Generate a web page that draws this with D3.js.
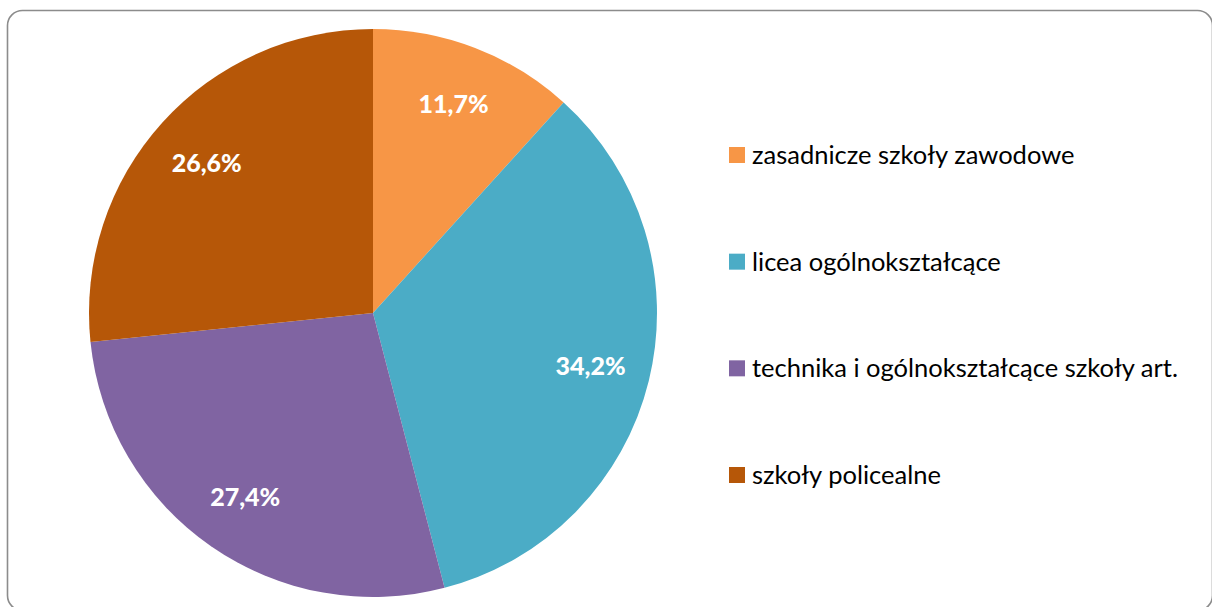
<!DOCTYPE html>
<html>
<head>
<meta charset="utf-8">
<script src="https://cdn.jsdelivr.net/npm/d3@7"></script>
<style>
  html, body { margin: 0; padding: 0; background: #fff; overflow: hidden; }
  svg { display: block; }
</style>
</head>
<body>
<script>
// chart data
const categories = [
  "zasadnicze szkoły zawodowe",
  "licea ogólnokształcące",
  "technika i ogólnokształcące szkoły art.",
  "szkoły policealne"
];
const shares = [11.7, 34.2, 27.4, 26.6];
const colors = ["#F79646", "#4BACC6", "#8064A2", "#B65708"];

var width = 1212,
  height = 607,
  radius = 284,
  cx = 373,
  cy = 313;

var fmt = function (v) { return d3.format(".1f")(v).replace(".", ",") + "%"; };

var svg = d3.select("body").append("svg")
  .attr("width", width)
  .attr("height", height);

// rounded frame (bottom edge runs just past the window)
svg.append("rect")
  .attr("x", 7.5)
  .attr("y", 10.5)
  .attr("width", 1205)
  .attr("height", 600)
  .attr("rx", 15)
  .attr("fill", "none")
  .attr("stroke", "#8c8c8c")
  .attr("stroke-width", 1.6);

var color = d3.scaleOrdinal().domain(categories).range(colors);

var pie = d3.pie().sort(null).value(function (d, i) { return shares[i]; });
var arcs = pie(categories);

var arc = d3.arc().innerRadius(0).outerRadius(radius);
var labelArc = d3.arc().innerRadius(224).outerRadius(224);

var g = svg.append("g").attr("transform", "translate(" + cx + "," + cy + ")");

g.selectAll("path.slice")
  .data(arcs)
  .enter().append("path")
  .attr("class", "slice")
  .attr("d", arc)
  .attr("fill", function (d) { return color(d.data); });

g.selectAll("text.lbl")
  .data(arcs)
  .enter().append("text")
  .attr("class", "lbl")
  .attr("transform", function (d) { return "translate(" + labelArc.centroid(d) + ")"; })
  .attr("text-anchor", "middle")
  .attr("dy", "0.36em")
  .style("font-family", "Lato, 'Open Sans', sans-serif")
  .style("font-weight", "900")
  .style("font-size", "25px")
  .style("fill", "#fff")
  .text(function (d, i) { return fmt(shares[i]); });

// legend
var legendY = d3.scalePoint().domain(categories).range([155, 475]);

var legend = svg.append("g")
  .selectAll("g")
  .data(categories)
  .enter().append("g")
  .attr("transform", function (d) { return "translate(729," + legendY(d) + ")"; });

legend.append("rect")
  .attr("x", 0)
  .attr("y", -8)
  .attr("width", 16)
  .attr("height", 16)
  .attr("fill", function (d) { return color(d); });

legend.append("text")
  .attr("x", 23)
  .attr("dy", "0.35em")
  .style("font-family", "Lato, 'Open Sans', sans-serif")
  .style("font-size", "25.5px")
  .style("fill", "#000")
  .text(function (d) { return d; });
</script>
</body>
</html>
